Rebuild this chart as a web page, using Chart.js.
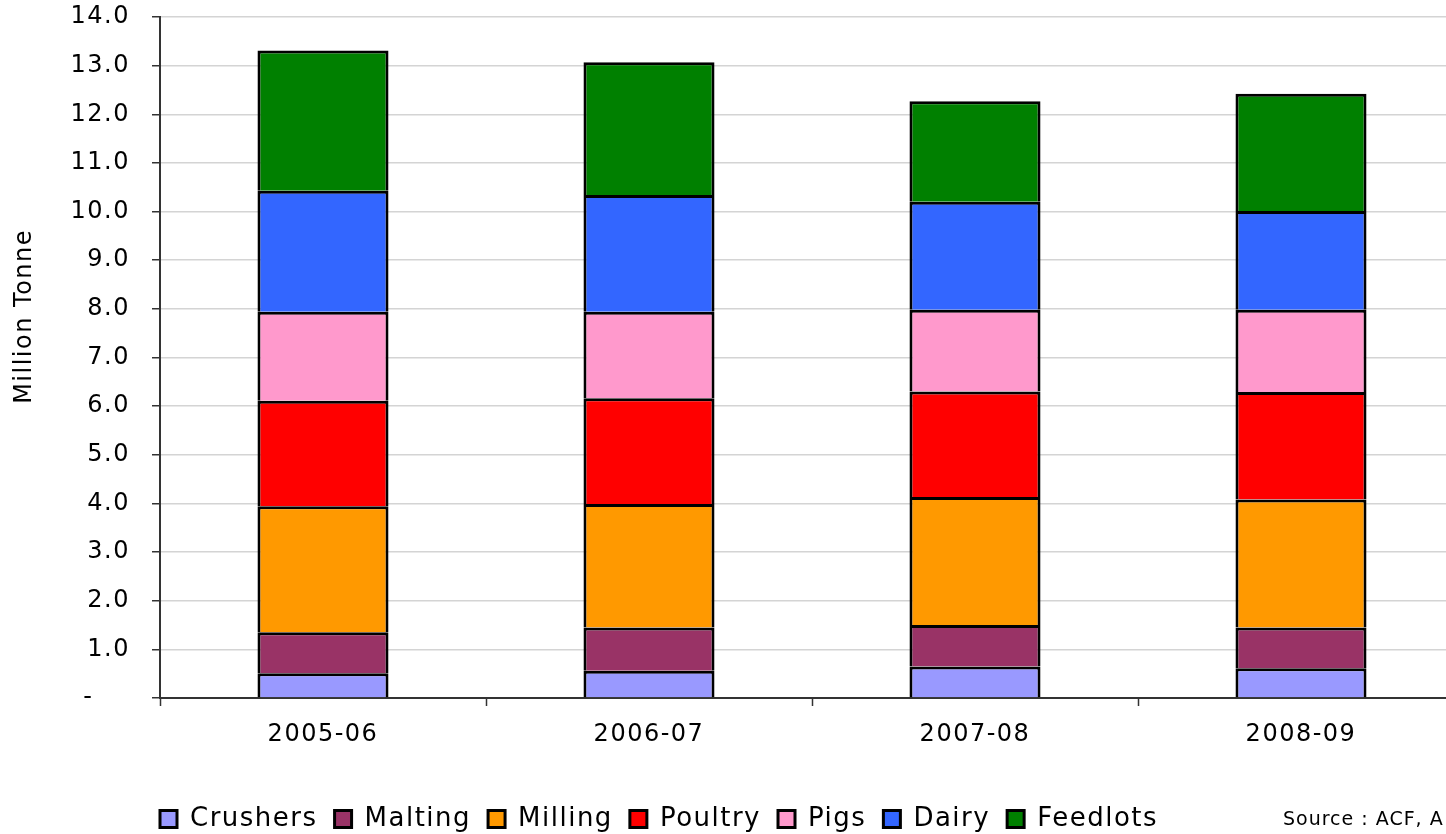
<!DOCTYPE html>
<html>
<head>
<meta charset="utf-8">
<script src="https://cdn.jsdelivr.net/npm/chart.js@4.4.1/dist/chart.umd.min.js"></script>
<style>
  html, body { margin: 0; padding: 0; background: #fff; }
  #wrap { width: 1446px; height: 834px; overflow: hidden; }
  canvas { display: block; }
</style>
</head>
<body>
<div id="wrap">
  <canvas id="feedChart" width="1464" height="834" style="width:1464px;height:834px"></canvas>
</div>
<script>
// Grain use by sector, million tonne
const seasons = ["2005-06", "2006-07", "2007-08", "2008-09"];
const crushers = [0.51, 0.56, 0.65, 0.61];
const malting = [0.84, 0.89, 0.85, 0.84];
const milling = [2.59, 2.54, 2.63, 2.63];
const poultry = [2.17, 2.17, 2.17, 2.21];
const pigs = [1.83, 1.78, 1.68, 1.69];
const dairy = [2.49, 2.40, 2.22, 2.03];
const feedlots = [2.88, 2.73, 2.07, 2.41];
const yTicks = [0, 1, 2, 3, 4, 5, 6, 7, 8, 9, 10, 11, 12, 13, 14];
const sourceNote = "Source : ACF, A";

const FONT = "'DejaVu Sans', Verdana, sans-serif";
const SPACING = "1.5px";

function series(label, data, color) {
  return {
    label: label,
    data: data,
    backgroundColor: color,
    borderColor: "#000",
    borderWidth: 3,
    barPercentage: 0.402,
    categoryPercentage: 1.0
  };
}

// wider, Excel-like lettering + legend nudge + source note
const tweaks = {
  id: "tweaks",
  beforeUpdate(chart) { chart.ctx.letterSpacing = SPACING; },
  beforeDraw(chart) { chart.ctx.letterSpacing = SPACING; },
  afterLayout(chart) {
    const lg = chart.legend;
    if (lg) {
      lg.left -= 17; lg.right -= 17;
      lg.top += 8; lg.bottom += 8;
    }
  },
  afterDraw(chart) {
    const ctx = chart.ctx;
    ctx.save();
    ctx.letterSpacing = "1px";
    ctx.font = "19px " + FONT;
    ctx.fillStyle = "#000";
    ctx.textAlign = "left";
    ctx.textBaseline = "alphabetic";
    ctx.fillText(sourceNote, 1283, 825);
    ctx.restore();
  }
};

const ctx = document.getElementById("feedChart").getContext("2d");
const chart = new Chart(ctx, {
  type: "bar",
  data: {
    labels: seasons,
    datasets: [
      series("Crushers", crushers, "#9999FF"),
      series("Malting", malting, "#993366"),
      series("Milling", milling, "#FF9900"),
      series("Poultry", poultry, "#FF0000"),
      series("Pigs", pigs, "#FF99CC"),
      series("Dairy", dairy, "#3366FF"),
      series("Feedlots", feedlots, "#008000")
    ]
  },
  options: {
    responsive: false,
    animation: false,
    layout: { padding: { top: 0, left: 0, right: 0, bottom: 0 } },
    plugins: {
      tooltip: { enabled: false },
      legend: {
        position: "bottom",
        align: "start",
        fullSize: false,
        labels: {
          boxWidth: 17,
          boxHeight: 17,
          padding: 17,
          color: "#000",
          font: { family: FONT, size: 26 }
        }
      }
    },
    scales: {
      x: {
        stacked: true,
        afterFit(s) { s.height = 83; },
        grid: {
          display: true,
          drawOnChartArea: false,
          offset: true,
          tickLength: 8,
          tickColor: "#333",
          tickWidth: 1.5
        },
        border: { color: "#333", width: 2 },
        ticks: {
          color: "#000",
          padding: 14,
          font: { family: FONT, size: 24 }
        }
      },
      y: {
        stacked: true,
        min: 0,
        max: 14,
        afterFit(s) {
          s.width = 160;
          s.paddingTop = 17;
          s.paddingBottom = 0;
        },
        afterBuildTicks(s) { s.ticks = yTicks.map(v => ({ value: v })); },
        grid: {
          color: "#d4d4d4",
          lineWidth: 1.5,
          tickLength: 8,
          tickColor: "#333",
          tickWidth: 1.5
        },
        border: { color: "#333", width: 2 },
        ticks: {
          color: "#000",
          padding: 22,
          font: { family: FONT, size: 24 },
          callback: v => (v === 0 ? "-    " : v.toFixed(1))
        },
        title: {
          display: true,
          text: "         Million Tonne",
          color: "#000",
          padding: { top: 10, bottom: 0 },
          font: { family: FONT, size: 24 }
        }
      }
    }
  },
  plugins: [tweaks]
});
</script>
</body>
</html>
